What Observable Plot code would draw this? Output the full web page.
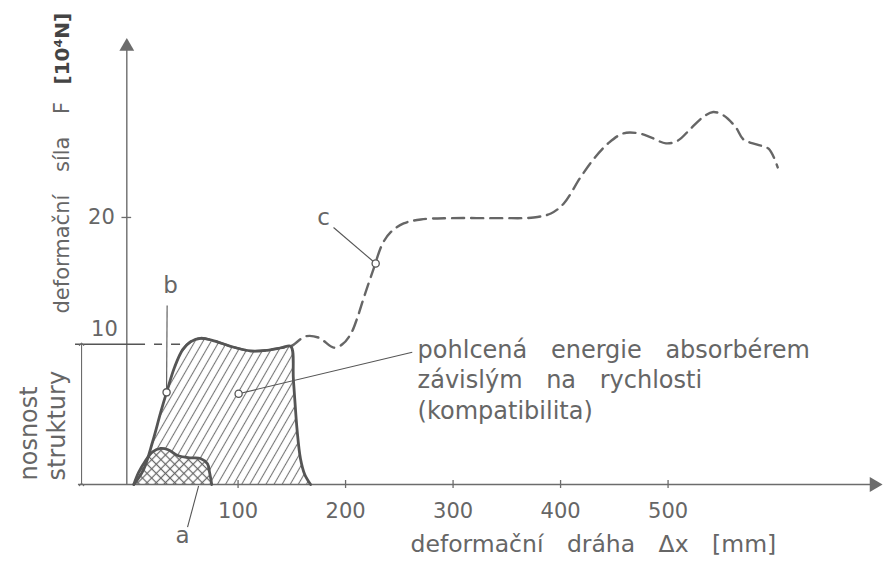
<!DOCTYPE html>
<html><head><meta charset="utf-8">
<script src="https://cdn.jsdelivr.net/npm/d3@7"></script>
<script src="https://cdn.jsdelivr.net/npm/@observablehq/plot@0.6"></script>
<style>
html,body{margin:0;padding:0;background:#fff;}
#chart svg text{word-spacing:16px;}
</style></head><body><div id="chart"></div>
<script>
// ---- data (x: deformační dráha [mm], y: síla [10^4 N]) ----
// curve b: solid outline, hatched area (absorbed energy)
const bX = [3, 12, 20.5, 28, 33.5, 41, 48.5, 56, 65, 76, 93, 112, 127, 141, 149, 151.5, 155, 158, 162, 167.5];
const bY = [0, 1.1, 3.2, 5.4, 6.9, 8.8, 10.1, 10.7, 10.95, 10.8, 10.35, 10.0, 10.05, 10.25, 10.35, 7.8, 4.0, 1.95, 0.75, 0];
// curve a: cross-hatched
const aX = [3, 7.5, 14, 20.5, 28, 35, 44.5, 56, 65, 71.5, 73.5, 75.5];
const aY = [0, 0.9, 1.8, 2.45, 2.7, 2.6, 2.15, 2.0, 1.95, 1.55, 0.9, 0];
// curve c: dashed
const cX = [48.5, 56, 65, 76, 93, 112, 127, 141, 149, 163, 175, 189, 197, 205, 211, 217, 225, 234.5, 242, 254, 270, 298, 344, 375, 391, 403, 418.5, 431, 445, 458.5, 472.5, 484, 498, 509, 521, 533, 542, 551.5, 563, 570, 583, 593.5, 602];
const cY = [10.1, 10.7, 10.95, 10.8, 10.35, 10.0, 10.05, 10.25, 10.35, 11.1, 11.0, 10.25, 10.5, 11.3, 12.5, 14.0, 15.9, 18.05, 18.9, 19.55, 19.85, 19.95, 19.95, 20.0, 20.3, 21.05, 23.0, 24.4, 25.6, 26.3, 26.3, 26.0, 25.55, 25.75, 26.65, 27.55, 27.9, 27.65, 26.75, 25.85, 25.45, 25.15, 23.75];

const xTicks = [100, 200, 300, 400, 500];
const yTicks = [20];
const capacityLevel = 10.5;   // nosnost struktury
const capacityLabel = "10";

// marked points on the curves
const markedPoints = [
  {x: 33.5, y: 6.9},     // b
  {x: 228, y: 16.55},    // c
  {x: 100.5, y: 6.8}     // absorbed energy
];
// annotation letters
const letters = [
  {x: 37.2, y: 14.9, t: "b"},
  {x: 179.5, y: 20.0, t: "c"},
  {x: 48.4, y: -3.8, t: "a"}
];
const leaders = [
  {x1: 34, y1: 13.4, x2: 33.5, y2: 6.9},
  {x1: 188.8, y1: 19.25, x2: 228, y2: 16.55},
  {x1: 53, y1: -3.2, x2: 63.3, y2: -0.1},
  {x1: 100.5, y1: 6.8, x2: 262, y2: 9.9}
];
const energyNote = [{x: 267, y: 7.94, t: "pohlcená energie absorbérem\nzávislým na rychlosti\n(kompatibilita)"}];

const xTitle = "deformační dráha Δx [mm]";
const yTitle = "deformační síla F";
const yUnit = "[10⁴N]";
const capacityTitle = "nosnost\nstruktury";

// axis geometry in data units
const yAxisX = -3.5, yAxisTop = 32.8;
const xAxisStart = -48.5, xAxisEnd = 691.6;
const dimX = -45.6, levelStart = -51.2, levelEnd = 46.5;

const curveB = bX.map((x, i) => ({x, y: bY[i]}));
const curveA = aX.map((x, i) => ({x, y: aY[i]}));
const curveC = cX.map((x, i) => ({x, y: cY[i]}));

const ink = "#555", axisInk = "#6c6c6c", textInk = "#666";
const crv = "catmull-rom";

const svg = Plot.plot({
  width: 883, height: 568,
  marginLeft: 0, marginRight: 0, marginTop: 0, marginBottom: 84,
  x: {domain: [-121, 700.4], axis: null},
  y: {domain: [0, 36.25], axis: null},
  style: {fontFamily: "DejaVu Sans", color: textInk, background: "#fff", overflow: "visible"},
  marks: [
    Plot.areaY(curveB, {x: "x", y: "y", fill: "url(#hatchB)", curve: crv}),
    Plot.areaY(curveA, {x: "x", y: "y", fill: "#fff", curve: crv}),
    Plot.areaY(curveA, {x: "x", y: "y", fill: "url(#crossA)", curve: crv}),
    // axes
    Plot.ruleY([0], {x1: xAxisStart, x2: xAxisEnd, stroke: axisInk, strokeWidth: 1.4}),
    Plot.ruleX([yAxisX], {y1: 0, y2: yAxisTop, stroke: axisInk, strokeWidth: 1.4}),
    Plot.dot([{x: xAxisEnd, y: 0}], {x: "x", y: "y", symbol: "triangle", r: 5.5, fill: axisInk, rotate: 90}),
    Plot.dot([{x: yAxisX, y: yAxisTop}], {x: "x", y: "y", symbol: "triangle", r: 5.5, fill: axisInk}),
    Plot.ruleX(xTicks, {y1: -0.3, y2: 0.3, stroke: axisInk, strokeWidth: 1.3}),
    Plot.axisX({ticks: xTicks, tickSize: 0, tickPadding: 19, fontSize: 21, label: null}),
    Plot.ruleY(yTicks, {x1: yAxisX - 4.5, x2: yAxisX + 4.5, stroke: axisInk, strokeWidth: 1.3}),
    Plot.text(yTicks, {x: yAxisX, y: d => d, text: d => String(d), textAnchor: "end", dx: -12, fontSize: 21}),
    // capacity level + dimension
    Plot.ruleY([capacityLevel], {x1: levelStart, x2: levelEnd, stroke: ink, strokeWidth: 1.4, strokeDasharray: "70,9,8,9"}),
    Plot.text([capacityLevel], {x: yAxisX, y: d => d, text: () => capacityLabel, textAnchor: "end", lineAnchor: "bottom", dx: -9, dy: -8, fontSize: 21}),
    Plot.link([capacityLevel], {x1: dimX, x2: dimX, y1: 0, y2: d => d, stroke: axisInk, strokeWidth: 1.1, markerStart: "arrow", markerEnd: "arrow"}),
    // curves
    Plot.line(curveC, {x: "x", y: "y", stroke: "#666", strokeWidth: 2.4, strokeDasharray: "12,7", curve: crv}),
    Plot.line(curveB, {x: "x", y: "y", stroke: ink, strokeWidth: 2.8, curve: crv}),
    Plot.line(curveA, {x: "x", y: "y", stroke: ink, strokeWidth: 2.8, curve: crv}),
    // annotations
    Plot.link(leaders, {x1: "x1", y1: "y1", x2: "x2", y2: "y2", stroke: ink, strokeWidth: 1.1}),
    Plot.dot(markedPoints, {x: "x", y: "y", r: 3.6, fill: "#fff", stroke: ink, strokeWidth: 1.3}),
    Plot.text(letters, {x: "x", y: "y", text: "t", fontSize: 23}),
    Plot.text(energyNote, {x: "x", y: "y", text: "t", textAnchor: "start", lineAnchor: "middle", lineHeight: 1.27, fontSize: 24}),
    // titles
    Plot.text([xTitle], {frameAnchor: "bottom-left", text: d => d, textAnchor: "start", dx: 410, dy: 67, fontSize: 23.5}),
    Plot.text([yTitle], {frameAnchor: "top-left", text: d => d, rotate: -90, textAnchor: "start", dx: 54, dy: 313, fontSize: 21}),
    Plot.text([yUnit], {frameAnchor: "top-left", text: d => d, rotate: -90, textAnchor: "start", dx: 54, dy: 84, fontSize: 20, fontWeight: "bold", fill: "#444"}),
    Plot.text([capacityTitle], {frameAnchor: "bottom-left", text: d => d, rotate: -90, textAnchor: "start", lineAnchor: "middle", lineHeight: 1.19, dx: 41.5, dy: -4, fontSize: 24})
  ]
});

const defs = d3.select(svg).insert("defs", ":first-child");
const pb = defs.append("pattern").attr("id", "hatchB").attr("patternUnits", "userSpaceOnUse")
  .attr("width", 7).attr("height", 7).attr("patternTransform", "rotate(30)");
pb.append("line").attr("x1", 3.5).attr("y1", -1).attr("x2", 3.5).attr("y2", 8).attr("stroke", "#777").attr("stroke-width", 1.1);
const pa = defs.append("pattern").attr("id", "crossA").attr("patternUnits", "userSpaceOnUse")
  .attr("width", 6.5).attr("height", 6.5).attr("patternTransform", "rotate(45)");
pa.append("line").attr("x1", 3.25).attr("y1", -1).attr("x2", 3.25).attr("y2", 7.5).attr("stroke", "#666").attr("stroke-width", 1.2);
pa.append("line").attr("x1", -1).attr("y1", 3.25).attr("x2", 7.5).attr("y2", 3.25).attr("stroke", "#666").attr("stroke-width", 1.2);

document.getElementById("chart").appendChild(svg);
</script></body></html>
